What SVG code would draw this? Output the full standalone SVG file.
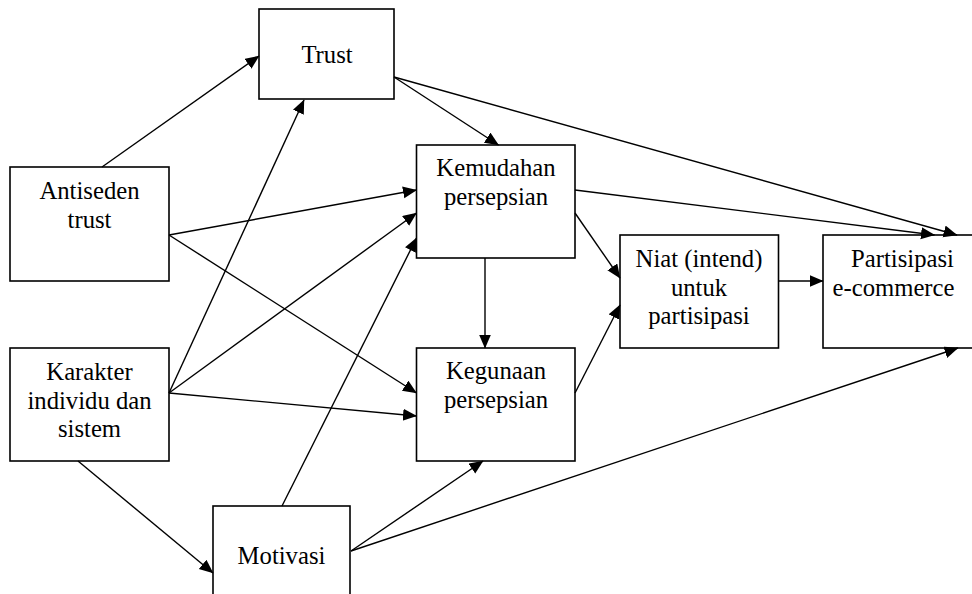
<svg xmlns="http://www.w3.org/2000/svg" width="972" height="594" viewBox="0 0 972 594">
<style>
.box{fill:#fff;stroke:#000;stroke-width:1.6}
text{font-family:'Liberation Serif','Times New Roman',serif;font-size:24.7px;fill:#000;text-anchor:middle}
.cn line{stroke:#000;stroke-width:1.4;fill:none;marker-end:url(#ah)}
</style>
<defs>
<marker id="ah" markerUnits="userSpaceOnUse" markerWidth="16" markerHeight="14" refX="13.5" refY="6" orient="auto">
<path d="M0,0 L14,6 L0,12 Z" fill="#000"/>
</marker>
</defs>
<rect width="972" height="594" fill="#fff"/>
<g id="nodes">
<g id="trust"><rect class="box" x="259" y="9" width="135" height="90"/><text x="327" y="63">Trust</text></g>
<g id="antiseden"><rect class="box" x="10" y="167" width="159" height="114"/><text x="89.5" y="199">Antiseden</text><text x="89.5" y="228">trust</text></g>
<g id="karakter"><rect class="box" x="10" y="348" width="159" height="113"/><text x="89.5" y="380">Karakter</text><text x="89.5" y="408.5">individu dan</text><text x="89.5" y="437">sistem</text></g>
<g id="kemudahan"><rect class="box" x="416.5" y="145" width="158.5" height="113"/><text x="496" y="176">Kemudahan</text><text x="496" y="205">persepsian</text></g>
<g id="kegunaan"><rect class="box" x="416.5" y="348" width="158.5" height="113"/><text x="496" y="379">Kegunaan</text><text x="496" y="408">persepsian</text></g>
<g id="niat"><rect class="box" x="620" y="235" width="158.5" height="113"/><text x="699" y="267">Niat (intend)</text><text x="699" y="295.5">untuk</text><text x="699" y="324">partisipasi</text></g>
<g id="partisipasi"><rect class="box" x="823" y="235" width="180" height="113"/><text x="902.5" y="267">Partisipasi</text><text x="893.5" y="295.5">e-commerce</text></g>
<g id="motivasi"><rect class="box" x="213" y="506" width="137" height="100"/><text x="281.5" y="564">Motivasi</text></g>
</g>
<g id="connectors" class="cn">
<line x1="102" y1="167" x2="259" y2="56"/>
<line x1="169" y1="393" x2="304" y2="100"/>
<line x1="169" y1="235" x2="416.5" y2="190"/>
<line x1="169" y1="235" x2="416.5" y2="393"/>
<line x1="169" y1="393" x2="416.5" y2="213"/>
<line x1="169" y1="393" x2="416.5" y2="416"/>
<line x1="282" y1="506" x2="416.5" y2="238"/>
<line x1="78" y1="461" x2="213" y2="573"/>
<line x1="351" y1="551" x2="483" y2="461"/>
<line x1="351" y1="551" x2="958" y2="348"/>
<line x1="394" y1="77" x2="498.5" y2="145"/>
<line x1="394" y1="77" x2="957" y2="235"/>
<line x1="575" y1="190" x2="934.5" y2="235"/>
<line x1="575" y1="213" x2="620" y2="278"/>
<line x1="485" y1="258" x2="485" y2="348"/>
<line x1="575" y1="393" x2="620" y2="305"/>
<line x1="778.5" y1="281" x2="823" y2="281"/>
</g>
</svg>
